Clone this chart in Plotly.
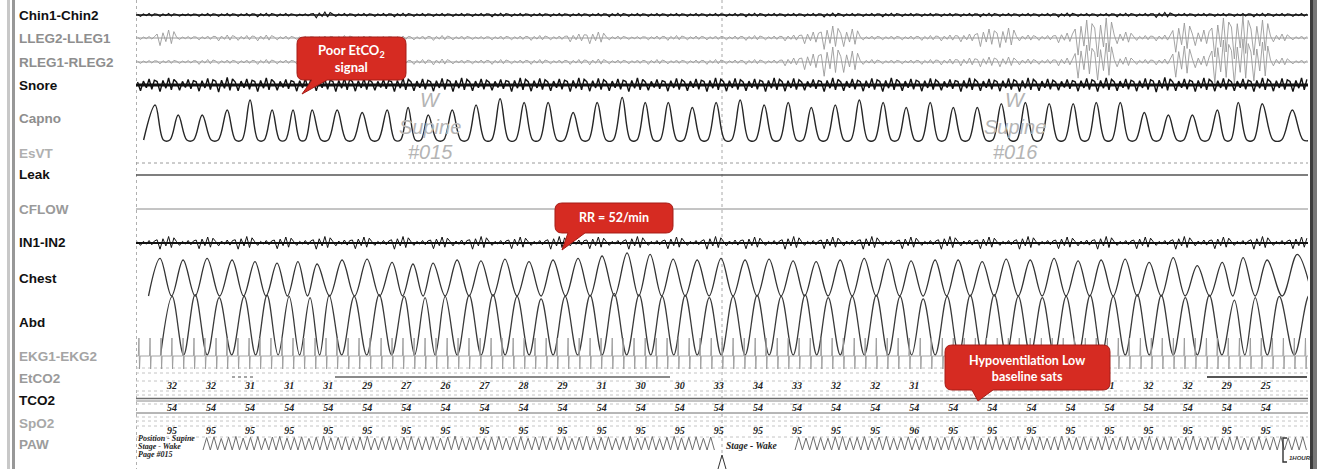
import plotly.graph_objects as go

# ======================= DATA =======================
channel_labels = ["Chin1-Chin2", "LLEG2-LLEG1", "RLEG1-RLEG2", "Snore", "Capno", "EsVT",
                  "Leak", "CFLOW", "IN1-IN2", "Chest", "Abd", "EKG1-EKG2", "EtCO2",
                  "TCO2", "SpO2", "PAW"]

# breath (chest peak) times, seconds into the 60 s page
breath_t = [1.23, 2.41, 3.64, 4.92, 6.09, 7.22, 8.29, 9.27, 10.55, 11.83,
            13.11, 14.18, 15.21, 16.44, 17.66, 18.89, 20.12, 21.35, 22.63, 23.86,
            25.14, 26.32, 27.50, 28.73, 29.95, 31.18, 32.41, 33.64, 34.82, 36.05,
            37.28, 38.50, 39.68, 40.91, 42.09, 43.32, 44.55, 45.78, 47.00, 48.23,
            49.41, 50.64, 51.87, 53.10, 54.33, 55.61, 56.68, 57.91, 59.45]
capno_lag_s = -0.25
abd_lag_s = 0.62

capno_peak_mmhg = [28, 20, 20, 24, 32, 24, 24, 24, 24, 22,
                   24, 26, 20, 24, 28, 33, 30, 30, 22, 30,
                   34, 30, 30, 26, 30, 32, 28, 30, 26, 28,
                   32, 30, 26, 30, 26, 26, 29, 30, 29, 29,
                   30, 30, 22, 20, 20, 24, 30, 29, 24]
capno_base_mmhg = 0.0

chest_peak = [9.4, 9.0, 9.4, 9.0, 8.6, 8.2, 8.6, 8.0, 9.0, 9.2,
              8.4, 8.0, 8.2, 9.0, 8.8, 9.2, 8.6, 9.0, 9.4, 10.0,
              10.8, 10.4, 9.2, 9.0, 9.4, 9.0, 9.2, 8.8, 8.6, 9.0,
              9.4, 9.2, 8.8, 9.0, 9.0, 8.6, 9.2, 9.0, 9.4, 8.8,
              9.0, 9.2, 8.4, 9.6, 7.6, 8.4, 9.6, 9.0, 10.4]
abd_peak = [9.6, 9.9, 9.4, 9.6, 9.8, 9.6, 9.4, 9.8, 9.6, 9.9,
            9.6, 9.4, 9.6, 9.8, 9.9, 9.6, 9.2, 9.6, 9.8, 10.1,
            9.9, 9.6, 9.8, 9.4, 9.6, 9.8, 9.6, 9.9, 9.4, 9.6,
            9.8, 9.6, 9.2, 9.6, 9.8, 9.9, 9.6, 9.4, 9.6, 9.8,
            9.6, 9.9, 9.8, 9.4, 9.8, 9.0, 9.4, 9.6, 9.8]
resp_base = 0.0

ekg_beat_t = [0.15, 0.72, 1.28, 1.84, 2.41, 2.97, 3.53, 4.10, 4.66, 5.22,
              5.79, 6.35, 6.91, 7.48, 8.04, 8.60, 9.17, 9.73, 10.29, 10.86,
              11.42, 11.98, 12.55, 13.11, 13.67, 14.24, 14.80, 15.36, 15.93, 16.49,
              17.05, 17.62, 18.18, 18.74, 19.31, 19.87, 20.43, 21.00, 21.56, 22.12,
              22.69, 23.25, 23.81, 24.38, 24.94, 25.50, 26.07, 26.63, 27.19, 27.76,
              28.32, 28.88, 29.45, 30.01, 30.57, 31.14, 31.70, 32.26, 32.83, 33.39,
              33.95, 34.52, 35.08, 35.64, 36.21, 36.77, 37.33, 37.90, 38.46, 39.02,
              39.59, 40.15, 40.71, 41.28, 41.84, 42.40, 42.97, 43.53, 44.09, 44.66,
              45.22, 45.78, 46.35, 46.91, 47.47, 48.04, 48.60, 49.16, 49.73, 50.29,
              50.85, 51.42, 51.98, 52.54, 53.11, 53.67, 54.23, 54.80, 55.36, 55.92,
              56.49, 57.05, 57.61, 58.18, 58.74, 59.30, 59.87]
ekg_r_mv = 1.8
ekg_s_mv = -1.3

# 1-second peak-amplitude envelopes (uV) of the EMG / snore / IN channels
chin_env_uv = [15, 15, 12, 15, 15, 15, 18, 15, 12, 30, 15, 15, 15, 18, 15, 15, 15, 15, 18, 15,
               15, 15, 15, 15, 18, 15, 15, 15, 15, 15, 15, 18, 15, 15, 15, 20, 15, 15, 18, 15,
               15, 15, 15, 18, 15, 15, 15, 20, 15, 15, 18, 15, 25, 15, 15, 15, 15, 18, 15, 15]
lleg_env_uv = [15, 80, 15, 20, 30, 25, 30, 20, 15, 20, 25, 20, 15, 20, 20, 25, 20, 15, 20, 20,
               25, 20, 40, 60, 20, 15, 20, 25, 20, 20, 20, 25, 20, 30, 60, 120, 90, 20, 20, 20,
               25, 30, 40, 90, 100, 30, 25, 50, 180, 200, 60, 25, 30, 150, 80, 200, 220, 180, 40, 20]
rleg_env_uv = [15, 20, 15, 25, 20, 20, 25, 20, 20, 25, 20, 20, 25, 20, 25, 30, 20, 20, 25, 20,
               25, 20, 25, 30, 20, 20, 25, 20, 20, 25, 20, 25, 20, 40, 80, 150, 110, 25, 20, 20,
               25, 30, 40, 50, 50, 30, 25, 40, 170, 190, 50, 25, 30, 160, 60, 220, 230, 200, 40, 20]
snore_env_uv = [60, 70, 55, 65, 75, 60, 70, 55, 65, 60, 70, 65, 55, 70, 60, 65, 70, 60, 55, 70,
                65, 60, 70, 65, 60, 70, 55, 65, 60, 70, 65, 60, 70, 65, 55, 70, 60, 65, 70, 60,
                65, 55, 70, 60, 65, 70, 60, 55, 65, 70, 60, 65, 75, 60, 70, 65, 60, 70, 65, 70]
in12_env_uv = [25, 65, 25, 60, 30, 65, 25, 60, 25, 65, 30, 60, 25, 65, 25, 60, 30, 65, 25, 60,
               25, 65, 30, 60, 25, 65, 25, 60, 25, 65, 30, 60, 25, 65, 25, 60, 30, 65, 25, 60,
               25, 65, 30, 60, 25, 65, 25, 60, 30, 65, 25, 60, 25, 65, 30, 60, 25, 65, 25, 60]

# airway pressure oscillation: peak values (cmH2O) per cycle, two segments
paw_period_s = 0.374
paw_start_a_s = 3.43
paw_start_b_s = 33.74
paw_base_cmh2o = 2.0
paw_peaks_a = [8.2, 8.6, 7.8, 8.4, 8.8, 8.0, 8.3, 8.7, 7.9, 8.5,
               8.8, 8.0, 8.2, 8.6, 7.8, 8.4, 8.9, 8.1, 8.3, 8.6,
               7.9, 8.5, 8.8, 8.0, 8.2, 8.7, 7.8, 8.4, 8.8, 8.1,
               8.3, 8.6, 7.9, 8.5, 8.9, 8.0, 8.2, 8.6, 7.8, 8.4,
               8.8, 8.0, 8.3, 8.7, 7.9, 8.5, 8.8, 8.1, 8.2, 8.6,
               7.8, 8.4, 8.9, 8.0, 8.3, 8.6, 7.9, 8.5, 8.8, 8.0,
               8.2, 8.7, 7.8, 8.4, 8.8, 8.1, 8.3, 8.6, 7.9, 8.5]
paw_peaks_b = [8.4, 8.0, 8.7, 8.2, 7.9, 8.6, 8.8, 8.1, 8.3, 8.7,
               7.9, 8.5, 8.8, 8.0, 8.2, 8.6, 7.8, 8.4, 8.9, 8.1,
               8.3, 8.6, 7.9, 8.5, 8.8, 8.0, 8.2, 8.7, 7.8, 8.4,
               8.8, 8.0, 8.3, 8.6, 7.9, 8.5, 8.9, 8.1, 8.2, 8.6,
               7.8, 8.4, 8.8, 8.0, 8.3, 8.7, 7.9, 8.5, 8.8, 8.1,
               8.2, 8.6, 7.8, 8.4, 8.9, 8.0, 8.3, 8.6, 7.9, 8.5,
               8.8, 8.0, 8.2, 8.7, 7.8, 8.4, 8.8, 8.1, 8.3, 8.6]

# numeric trend read-outs (None = hidden behind the callout in the reference)
trend_t = [1.84, 3.84, 5.84, 7.84, 9.84, 11.84, 13.84, 15.84, 17.84, 19.84,
           21.84, 23.84, 25.84, 27.84, 29.84, 31.84, 33.84, 35.84, 37.84, 39.84,
           41.84, 43.84, 45.84, 47.84, 49.84, 51.84, 53.84, 55.84, 57.84]
etco2_vals = [32, 32, 31, 31, 31, 29, 27, 26, 27, 28,
              29, 31, 30, 30, 33, 34, 33, 32, 32, 31,
              None, None, None, None, 31, 32, 32, 29, 25]
tco2_vals = [54] * 29
spo2_vals = [95] * 19 + [96] + [95] * 9

# ======================= LAYOUT / STYLE =======================
W, H = 1320, 469
X0_PX, X1_PX = 136, 1308


def pxx(p):
    return p / W


def pxy(p):
    return 1 - p / H


# axis name -> (top px, bottom px, value range)
axes_cfg = [
    ("chin", 3, 27, [-120, 120]),
    ("lleg", 14, 62, [-240, 240]),
    ("rleg", 38, 86, [-240, 240]),
    ("snore", 73, 97, [-120, 120]),
    ("capno", 92, 142, [-1.6, 38.4]),
    ("in12", 229, 257, [-140, 140]),
    ("chest", 246, 306, [-2.5, 12.5]),
    ("abd", 285, 362, [-1.15, 11.48]),
    ("ekg", 331, 381, [-2.5, 2.5]),
    ("paw", 436, 456, [-1, 9]),
    ("px", 0, 469, [469, 0]),
]
axis_ref = {}
layout_axes = {}
for i, (name, top, bot, rng) in enumerate(axes_cfg):
    ref = "y" if i == 0 else f"y{i + 1}"
    key = "yaxis" if i == 0 else f"yaxis{i + 1}"
    axis_ref[name] = ref
    layout_axes[key] = dict(domain=[pxy(bot), pxy(top)], range=rng, visible=False,
                            fixedrange=True, anchor="x")

fig = go.Figure()


def add(x, y, axis, color, width=1.0, shape="linear", fill=None, fillcolor=None):
    fig.add_trace(go.Scatter(x=x, y=y, xaxis="x", yaxis=axis_ref[axis], mode="lines",
                             line=dict(color=color, width=width, shape=shape,
                                       smoothing=1.0 if shape == "spline" else None),
                             fill=fill, fillcolor=fillcolor, hoverinfo="skip",
                             connectgaps=False))


# stroke texture used to render a 1-second envelope as a noisy trace
TEXTURE = [(-0.42, 0.50), (-0.27, -0.95), (-0.12, 0.65), (0.03, -0.45),
           (0.17, 1.00), (0.31, -0.70), (0.44, 0.80)]


def noise(env, axis, color, stroke_w, center_w=0):
    xs, ys = [], []
    for i, e in enumerate(env):
        for off, h in TEXTURE:
            xs.append(i + 0.5 + off)
            ys.append(h * e)
    if center_w:
        add([0, 60], [0, 0], axis, color, center_w)
    add(xs, ys, axis, color, stroke_w)


def wave(peak_t, peak_v, base, flat=None):
    xs, ys = [], []
    n = len(peak_t)
    for i in range(n):
        step = (peak_t[1] - peak_t[0]) if i == 0 else (peak_t[i] - peak_t[i - 1])
        if i == 0:
            xs.append(peak_t[0] - step / 2)
            ys.append(base)
        xs.append(peak_t[i])
        ys.append(peak_v[i])
        nxt = peak_t[i + 1] if i < n - 1 else peak_t[i] + step
        if flat:
            xs += [peak_t[i] + (nxt - peak_t[i]) * flat, nxt - (nxt - peak_t[i]) * flat]
            ys += [base, base]
        else:
            xs.append((peak_t[i] + nxt) / 2)
            ys.append(base)
    return xs, ys


# noisy channels
noise(chin_env_uv, "chin", "#111111", 1.1, 1.6)
noise(lleg_env_uv, "lleg", "#9a9a9a", 0.9, 1.0)
noise(rleg_env_uv, "rleg", "#9a9a9a", 0.9, 1.0)
noise(snore_env_uv, "snore", "#111111", 1.4, 3.0)
noise(in12_env_uv, "in12", "#111111", 1.0, 2.0)

# capno
cx, cy = wave([t + capno_lag_s for t in breath_t], capno_peak_mmhg, capno_base_mmhg, flat=0.36)
add(cx, cy, "capno", "#262626", 1.4, shape="spline")

# chest / abd
hx, hy = wave(breath_t, chest_peak, resp_base)
add(hx, hy, "chest", "#333333", 1.3, shape="spline")
ax_, ay_ = wave([t + abd_lag_s for t in breath_t], abd_peak, resp_base)
add(ax_, ay_, "abd", "#3a3a3a", 1.3, shape="spline")

# EKG
ex, ey = [0], [0]
for t in ekg_beat_t:
    ex += [t - 0.03, t, t + 0.03, t + 0.06]
    ey += [0, ekg_r_mv, ekg_s_mv, 0]
ex.append(60)
ey.append(0)
add(ex, ey, "ekg", "#9a9a9a", 0.9)

# PAW
for start, peaks in ((paw_start_a_s, paw_peaks_a), (paw_start_b_s, paw_peaks_b)):
    px_, py_ = [], []
    for i, v in enumerate(peaks):
        px_ += [start + i * paw_period_s, start + (i + 0.5) * paw_period_s]
        py_ += [paw_base_cmh2o, v]
    px_.append(start + len(peaks) * paw_period_s)
    py_.append(paw_base_cmh2o)
    add(px_, py_, "paw", "#6e6e6e", 1.0)

# numeric rows
row_y = {"etco2": 386, "tco2": 408, "spo2": 431.5}
for key, vals in (("etco2", etco2_vals), ("tco2", tco2_vals), ("spo2", spo2_vals)):
    pts = [(t, v) for t, v in zip(trend_t, vals) if v is not None]
    fig.add_trace(go.Scatter(
        x=[p[0] for p in pts], y=[row_y[key]] * len(pts), xaxis="x", yaxis=axis_ref["px"],
        mode="text", text=[f"<b><i>{p[1]}</i></b>" for p in pts],
        textfont=dict(family="Liberation Serif", size=10, color="#1e1e1e"),
        hoverinfo="skip"))

# ======================= SHAPES =======================
shapes = []


def hline(y, x0=X0_PX, x1=X1_PX, color="#bbbbbb", width=1, dash="solid", layer="below"):
    shapes.append(dict(type="line", xref="paper", yref="paper", x0=pxx(x0), x1=pxx(x1),
                       y0=pxy(y), y1=pxy(y), line=dict(color=color, width=width, dash=dash),
                       layer=layer))


def vline(x, y0, y1, color="#bbbbbb", width=1, dash="dot", layer="below"):
    shapes.append(dict(type="line", xref="paper", yref="paper", x0=pxx(x), x1=pxx(x),
                       y0=pxy(y0), y1=pxy(y1), line=dict(color=color, width=width, dash=dash),
                       layer=layer))


vline(X0_PX + 0.5, 0, 469, "#b0b0b0")
vline(722, 0, 462, "#a8a8a8")

# frame bars: left double bar and right dark bar
for xc, w, col in ((8.5, 3, "#c8c8c8"), (13.5, 3, "#989898"),
                   (1311.5, 3, "#3c3c3c"), (1315, 4, "#777777")):
    vline(xc, 0, 469, col, w, "solid", "above")

# flat channels
hline(163, color="#9a9a9a", dash="dot")
hline(175, color="#555555", width=1.6)
hline(209, color="#8a8a8a", width=1.0)

# numeric-row grid
for y in (368, 373, 381, 391, 395, 404, 417, 421, 426, 437):
    hline(y, color="#c4c4c4", dash="dot")
hline(398.5, color="#6e6e6e", width=1.3)
hline(401, color="#8a8a8a", width=1.0)
hline(413, color="#6e6e6e", width=1.0)
hline(377, 335, 670, color="#8a8a8a", width=2)
hline(377, 232, 256, color="#888888", width=1.5, dash="dot")
hline(377, 1207, 1307, color="#555555", width=2.2)

# page marker and time bracket
shapes.append(dict(type="path", xref="paper", yref="paper", layer="above",
                   path=f"M {pxx(718)},{pxy(469)} L {pxx(722)},{pxy(455)} L {pxx(726)},{pxy(469)}",
                   line=dict(color="#333333", width=1)))
shapes.append(dict(type="path", xref="paper", yref="paper", layer="above",
                   path=(f"M {pxx(1287)},{pxy(438)} L {pxx(1283)},{pxy(438)} "
                         f"L {pxx(1283)},{pxy(462)} L {pxx(1287)},{pxy(462)}"),
                   line=dict(color="#333333", width=1.4)))


def callout(x0, y0, x1, y1, r, bl, br, tx, ty):
    def P(x, y):
        return f"{pxx(x):.5f},{pxy(y):.5f}"
    d = (f"M {P(x0 + r, y0)} L {P(x1 - r, y0)} Q {P(x1, y0)} {P(x1, y0 + r)} "
         f"L {P(x1, y1 - r)} Q {P(x1, y1)} {P(x1 - r, y1)} L {P(br, y1)} L {P(tx, ty)} "
         f"L {P(bl, y1)} L {P(x0 + r, y1)} Q {P(x0, y1)} {P(x0, y1 - r)} "
         f"L {P(x0, y0 + r)} Q {P(x0, y0)} {P(x0 + r, y0)} Z")
    shapes.append(dict(type="path", path=d, xref="paper", yref="paper", layer="above",
                       fillcolor="#d62b22", line=dict(color="#a51d17", width=1)))


callout(297, 37, 406, 80, 7, 312, 327, 302, 94)
callout(555, 203, 673, 233, 7, 568, 585, 562, 250)
callout(945, 345, 1110, 390, 7, 972, 993, 978, 401)

# ======================= ANNOTATIONS =======================
annotations = []

label_y = [15, 39, 62, 85, 118, 153, 175, 209, 243, 278, 322, 356, 378, 400, 423, 444]
label_color = ["#111111", "#8e8e8e", "#8e8e8e", "#111111", "#8e8e8e", "#b0b0b0",
               "#111111", "#9a9a9a", "#111111", "#111111", "#111111", "#a4a4a4",
               "#9a9a9a", "#111111", "#a8a8a8", "#9c9c9c"]
for lab, y, c in zip(channel_labels, label_y, label_color):
    annotations.append(dict(text=f"<b>{lab}</b>", x=pxx(17), y=pxy(y), xref="paper",
                            yref="paper", xanchor="left", yanchor="middle", showarrow=False,
                            font=dict(family="Liberation Sans", size=13.5, color=c)))

for xc, tag in ((430, "#015"), (1015, "#016")):
    for y, txt in ((100, "W"), (127, "Supine"), (152, tag)):
        annotations.append(dict(text=f"<i>{txt}</i>", x=pxx(xc), y=pxy(y), xref="paper",
                                yref="paper", xanchor="center", yanchor="middle",
                                showarrow=False,
                                font=dict(family="Liberation Sans", size=20, color="#b4b4b4")))

for y, txt in ((438.5, "Position - Supine"), (446.2, "Stage - Wake"), (454, "Page #015")):
    annotations.append(dict(text=f"<b><i>{txt}</i></b>", x=pxx(136), y=pxy(y), xref="paper",
                            yref="paper", xanchor="left", yanchor="middle", showarrow=False,
                            font=dict(family="Liberation Serif", size=8, color="#222222")))
annotations.append(dict(text="<b><i>Stage - Wake</i></b>", x=pxx(724), y=pxy(446),
                        xref="paper", yref="paper", xanchor="left", yanchor="middle",
                        showarrow=False,
                        font=dict(family="Liberation Serif", size=9.5, color="#222222")))
annotations.append(dict(text="<b><i>1HOUR/</i></b>", x=pxx(1287), y=pxy(458), xref="paper",
                        yref="paper", xanchor="left", yanchor="middle", showarrow=False,
                        font=dict(family="Liberation Sans", size=6, color="#333333")))

callout_text = [("Poor EtCO<sub>2</sub><br>signal", 351, 59, 13),
                ("RR = 52/min", 614, 218, 12.5),
                ("Hypoventilation Low<br>baseline sats", 1027, 368, 12.5)]
for txt, x, y, s in callout_text:
    annotations.append(dict(text=f"<b>{txt}</b>", x=pxx(x), y=pxy(y), xref="paper",
                            yref="paper", xanchor="center", yanchor="middle", showarrow=False,
                            align="center",
                            font=dict(family="Lato", size=s, color="white")))

fig.update_layout(
    width=W, height=H, margin=dict(l=0, r=0, t=0, b=0, pad=0),
    paper_bgcolor="white", plot_bgcolor="rgba(0,0,0,0)", showlegend=False,
    xaxis=dict(domain=[pxx(X0_PX), pxx(X1_PX)], range=[0, 60], visible=False,
               fixedrange=True, anchor="y"),
    shapes=shapes, annotations=annotations, **layout_axes)

fig.write_html("out.html")
